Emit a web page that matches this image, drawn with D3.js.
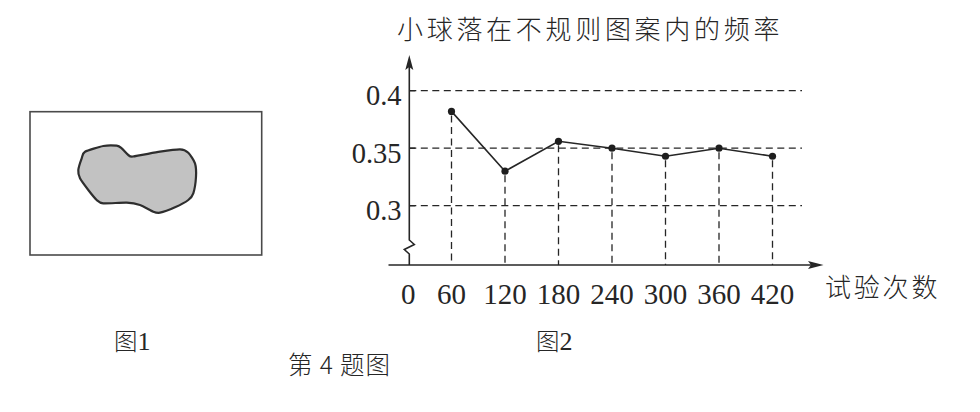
<!DOCTYPE html>
<html><head><meta charset="utf-8">
<script src="https://cdn.jsdelivr.net/npm/d3@7/dist/d3.min.js"></script>
<style>
html,body{margin:0;padding:0;background:#fff;}
svg{display:block;}
</style></head>
<body>
<svg id="c" width="980" height="412"></svg>
<script>
// ---- data ----
const trials = [60, 120, 180, 240, 300, 360, 420];
const freq = [0.382, 0.33, 0.356, 0.35, 0.343, 0.35, 0.343];
const yTicks = [0.3, 0.35, 0.4];
const yTickLabels = ["0.3", "0.35", "0.4"];
const xTickLabels = ["60", "120", "180", "240", "300", "360", "420"];
const originLabel = "0";
const title = "小球落在不规则图案内的频率";
const xTitle = "试验次数";
const caption1 = "图1";
const caption2 = "图2";
const captionMain = "第 4 题图";
// outline of the irregular shape in figure 1 (illustration, in px)
const blobShape = [[85,151.7],[103.3,146],[116.7,145.7],[121.7,148.3],[128.3,155],[133,156.5],
  [160,151.7],[180,149.3],[188.3,152.7],[195,163.3],[196,176.7],[193.3,193.3],[188.3,200],
  [175,207.3],[160,212.7],[153.3,211.7],[140,205],[126.7,202.7],[103.3,203.3],[96.7,200],
  [88.3,190],[80,178.3],[78.3,170],[81.7,158.3]];

const svg = d3.select("#c");
const ink = "#262626";
const serif = "'Liberation Serif','Times New Roman',serif";
const cjk = "'Noto Sans CJK SC','Liberation Serif',serif";

// ---- figure 1 ----
svg.append("rect").attr("x", 30).attr("y", 111.7).attr("width", 231.7).attr("height", 143.3)
  .attr("fill", "none").attr("stroke", "#4a4a4a").attr("stroke-width", 1.6);
svg.append("path")
  .attr("d", d3.line().curve(d3.curveCardinalClosed.tension(0.3))(blobShape))
  .attr("fill", "#c2c2c2").attr("stroke", "#2e2e2e").attr("stroke-width", 2.2);

// ---- figure 2 ----
const x0 = 409.3, y0 = 265;
const x = d3.scaleLinear().domain([60, 420]).range([451.5, 772.5]);
const y = d3.scaleLinear().domain([0.3, 0.4]).range([205.7, 90.7]);

// horizontal dashed gridlines
svg.append("g").selectAll("line").data(yTicks).join("line")
  .attr("x1", x0).attr("x2", 802).attr("y1", d => y(d)).attr("y2", d => y(d))
  .attr("stroke", ink).attr("stroke-width", 1.3).attr("stroke-dasharray", "7,4.5");

// vertical dashed drop lines
svg.append("g").selectAll("line").data(trials).join("line")
  .attr("x1", d => x(d)).attr("x2", d => x(d))
  .attr("y1", (d, i) => y(freq[i]) + 4).attr("y2", y0)
  .attr("stroke", ink).attr("stroke-width", 1.3).attr("stroke-dasharray", "7,4.5");

// y ticks (short solid marks)
svg.append("g").selectAll("line").data(yTicks).join("line")
  .attr("x1", x0).attr("x2", x0 + 6).attr("y1", d => y(d)).attr("y2", d => y(d))
  .attr("stroke", ink).attr("stroke-width", 1.4);

// y axis with break
const yAxisPath = d3.path();
yAxisPath.moveTo(x0, 66);
yAxisPath.lineTo(x0, 240);
yAxisPath.lineTo(x0 + 5, 244.5);
yAxisPath.lineTo(x0 - 5, 249.5);
yAxisPath.lineTo(x0, 254);
yAxisPath.lineTo(x0, y0);
svg.append("path").attr("d", yAxisPath.toString()).attr("fill", "none")
  .attr("stroke", ink).attr("stroke-width", 1.6);
// y arrow
svg.append("path").attr("d", `M${x0},55 L${x0 - 4},70 L${x0},67 L${x0 + 4},70 Z`).attr("fill", ink);

// x axis
svg.append("line").attr("x1", 388.5).attr("x2", 812).attr("y1", y0).attr("y2", y0)
  .attr("stroke", ink).attr("stroke-width", 1.6);
svg.append("path").attr("d", `M823.5,${y0} L808,${y0 - 4} L811,${y0} L808,${y0 + 4} Z`).attr("fill", ink);

// data line + points
const line = d3.line().x(d => x(d[0])).y(d => y(d[1]));
const pts = trials.map((t, i) => [t, freq[i]]);
svg.append("path").attr("d", line(pts)).attr("fill", "none")
  .attr("stroke", ink).attr("stroke-width", 1.6);
svg.append("g").selectAll("circle").data(pts).join("circle")
  .attr("cx", d => x(d[0])).attr("cy", d => y(d[1])).attr("r", 3.6).attr("fill", "#1e1e1e");

// y tick labels
svg.append("g").selectAll("text").data(yTicks).join("text")
  .attr("x", 401.5).attr("y", d => y(d) + 14.5).attr("text-anchor", "end")
  .attr("font-family", serif).attr("font-size", 28.5).attr("fill", ink)
  .text((d, i) => yTickLabels[i]);

// x tick labels
svg.append("g").selectAll("text").data(trials).join("text")
  .attr("x", d => x(d)).attr("y", 304).attr("text-anchor", "middle")
  .attr("font-family", serif).attr("font-size", 29).attr("fill", ink)
  .text((d, i) => xTickLabels[i]);
svg.append("text").attr("x", x0 - 1).attr("y", 304).attr("text-anchor", "middle")
  .attr("font-family", serif).attr("font-size", 29).attr("fill", ink).text(originLabel);

// titles
svg.append("text").attr("x", 397).attr("y", 38.5)
  .attr("font-family", cjk).attr("font-weight", 300).attr("font-size", 26).attr("letter-spacing", 3.7)
  .attr("fill", ink).text(title);
svg.append("text").attr("x", 825).attr("y", 296.5)
  .attr("font-family", cjk).attr("font-weight", 300).attr("font-size", 26).attr("letter-spacing", 2.8)
  .attr("fill", ink).text(xTitle);

// captions
svg.append("text").attr("x", 114).attr("y", 349.5)
  .attr("font-family", cjk).attr("font-weight", 300).attr("font-size", 23.5).attr("fill", ink).text(caption1.slice(0, 1))
  .append("tspan").attr("font-family", serif).attr("font-size", 26).text(caption1.slice(1));
svg.append("text").attr("x", 536).attr("y", 349.5)
  .attr("font-family", cjk).attr("font-weight", 300).attr("font-size", 23.5).attr("fill", ink).text(caption2.slice(0, 1))
  .append("tspan").attr("font-family", serif).attr("font-size", 26).text(caption2.slice(1));
svg.append("text").attr("x", 288).attr("y", 374)
  .attr("font-family", cjk).attr("font-weight", 300).attr("font-size", 24.5).attr("fill", ink)
  .attr("textLength", 102).attr("lengthAdjust", "spacing").text(captionMain);
</script>
</body></html>
